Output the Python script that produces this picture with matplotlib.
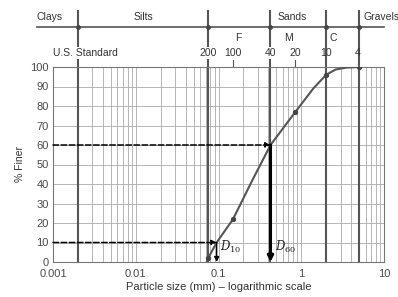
import matplotlib.pyplot as plt
import matplotlib.transforms as mtransforms

# gradation curve
size_mm = [0.072, 0.075, 0.095, 0.15, 0.25, 0.425, 0.85, 1.4, 2.0, 2.6, 3.5, 5.0]
pct_finer = [0, 2, 10, 22, 41, 60, 77, 89, 96, 98.7, 99.7, 100]

# sieve test points
point_mm = [0.075, 0.15, 0.85, 2.0, 5.0]
point_pct = [2, 22, 77, 96, 100]

# soil type boundaries and sieve numbers
boundary_mm = [0.002, 0.075, 0.425, 2.0, 5.0]
sieve_labels = ["200", "100", "40", "20", "10", "4"]
sieve_mm = [0.075, 0.15, 0.425, 0.85, 2.0, 5.0]
soil_names = ["Clays", "Silts", "Sands", "Gravels"]
soil_pos = [0.00092, 0.0123, 0.77, 5.6]
sand_sub = ["F", "M", "C"]
sand_sub_pos = [0.172, 0.71, 2.42]

d10, d60 = 0.095, 0.425

plt.rcParams['font.family'] = ['Liberation Sans', 'DejaVu Sans']
plt.rcParams['mathtext.fontset'] = 'dejavuserif'

fig = plt.figure(figsize=(3.98, 2.97), dpi=100)
ax = fig.add_axes([53 / 398, 35 / 297, 331 / 398, 195 / 297])

ax.set_xscale('log')
ax.set_xlim(0.001, 10)
ax.set_ylim(0, 100)
ax.set_yticks(range(0, 101, 10))
ax.set_xticks([0.001, 0.01, 0.1, 1, 10])
ax.set_xticklabels(["0.001", "0.01", "0.1", "1", "10"])
ax.tick_params(axis='both', which='both', length=0, labelsize=8, colors='#4a4a4a')
ax.tick_params(axis='x', pad=5)
ax.tick_params(axis='y', pad=3)
ax.grid(True, which='both', axis='x', color='#aaaaaa', linewidth=0.6)
ax.grid(True, which='major', axis='y', color='#aaaaaa', linewidth=0.6)
for sp in ax.spines.values():
    sp.set_color('#777777')
    sp.set_linewidth(0.8)

ax.set_xlabel("Particle size (mm) – logarithmic scale", fontsize=8, color='#333333', labelpad=2)
ax.set_ylabel("% Finer", fontsize=7.5, color='#333333', labelpad=4)

# x in data, y in axes fraction for the header above the plot
trans = mtransforms.blended_transform_factory(ax.transData, ax.transAxes)

# thick boundary lines running up into the header
for b in boundary_mm:
    ax.plot([b, b], [0, 1.287], transform=trans, color='#555555', linewidth=1.5,
            clip_on=False, zorder=2)
    ax.plot([b], [1.205], transform=trans, marker='o', markersize=2.5, color='#444444',
            clip_on=False, zorder=3)
ax.plot([-0.048, 1.0], [1.205, 1.205], transform=ax.transAxes, color='#555555',
        linewidth=1.2, clip_on=False)

for name, x in zip(soil_names, soil_pos):
    ax.text(x, 1.256, name, transform=trans, fontsize=7.5, color='#333333',
            ha='left' if name == "Gravels" else 'center', va='center')
for name, x in zip(sand_sub, sand_sub_pos):
    ax.text(x, 1.149, name, transform=trans, fontsize=7.5, color='#333333',
            ha='center', va='center')

ax.text(0.00244, 1.072, "U.S. Standard", transform=trans, fontsize=7.5, color='#333333',
        ha='center', va='center', bbox=dict(facecolor='white', edgecolor='none', pad=1))
for lab, x in zip(sieve_labels, sieve_mm):
    box = dict(facecolor='white', edgecolor='none', pad=0.5) if lab in ("200", "40") else None
    xx = x * 0.96 if lab == "4" else x
    ax.text(xx, 1.072, lab, transform=trans, fontsize=7.5, color='#333333',
            ha='center', va='center', bbox=box)
    if lab in ("100", "20"):
        ax.plot([x, x], [1.0, 1.036], transform=trans, color='#555555', linewidth=0.8,
                clip_on=False)

# gradation curve
ax.plot(size_mm, pct_finer, color='#555555', linewidth=1.5, zorder=4)
ax.plot(point_mm, point_pct, 'o', color='#444444', markersize=2.8, zorder=5)

# D10 and D60 construction
arrow_dash = dict(arrowstyle='-|>', color='black', linestyle='--', linewidth=1.1,
                  mutation_scale=7, shrinkA=0, shrinkB=0)
ax.annotate("", xy=(d60, 60), xytext=(0.001, 60), arrowprops=arrow_dash, zorder=6)
ax.annotate("", xy=(d10, 10), xytext=(0.001, 10), arrowprops=arrow_dash, zorder=6)
ax.annotate("", xy=(d60, 0), xytext=(d60, 60),
            arrowprops=dict(arrowstyle='-|>', color='black', linewidth=2.2,
                            mutation_scale=8, shrinkA=0, shrinkB=0), zorder=6)
ax.annotate("", xy=(d10, 0), xytext=(d10, 10),
            arrowprops=dict(arrowstyle='-|>', color='black', linewidth=1.0,
                            mutation_scale=7, shrinkA=0, shrinkB=0), zorder=6)
ax.text(0.104, 7.7, r"$D_{10}$", fontsize=8.5, color='#222222', va='center')
ax.text(0.48, 7.7, r"$D_{60}$", fontsize=8.5, color='#222222', va='center')

fig.savefig("out.png", dpi=100)
